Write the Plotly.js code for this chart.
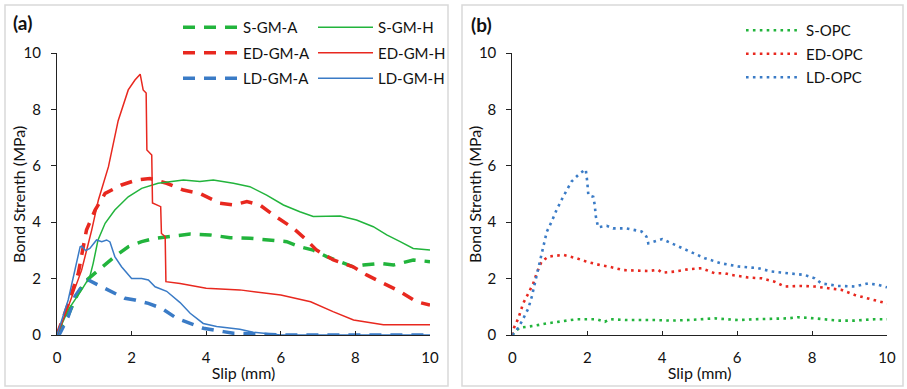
<!DOCTYPE html>
<html>
<head>
<meta charset="utf-8">
<script src="https://cdn.plot.ly/plotly-3.0.1.min.js"></script>
<style>html,body{margin:0;padding:0;background:#fff;}#chart{width:907px;height:389px;}</style>
</head>
<body>
<div id="chart"></div>
<script>
// ---- Panel (a): geopolymer mortars ----
const sgmaX = [0,0.3,0.55,0.75,1.11,1.55,1.91,2.27,2.63,3.03,3.57,4.1,4.64,5.17,5.62,6.16,6.51,6.87,7.23,7.59,7.94,8.21,8.66,9.02,9.55,10];
const sgmaY = [0,0.7,1.45,1.89,2.3,2.78,3.13,3.31,3.43,3.49,3.58,3.55,3.45,3.43,3.37,3.31,3.13,3.01,2.78,2.6,2.42,2.48,2.54,2.48,2.66,2.6];

const sgmhX = [0,0.3,0.66,0.88,0.97,1.1,1.29,1.55,1.91,2.27,2.71,3.39,3.83,4.19,4.73,5.17,5.62,6.07,6.51,6.87,7.59,8.03,8.48,8.84,9.2,9.55,10];
const sgmhY = [0,0.89,1.6,2.07,2.54,3.37,3.96,4.43,4.9,5.2,5.38,5.5,5.44,5.5,5.38,5.26,4.96,4.61,4.37,4.2,4.22,4.08,3.84,3.55,3.31,3.07,3.01];

const edgmaX = [0,0.3,0.57,0.79,1.02,1.29,1.73,2.14,2.49,2.94,3.39,3.83,4.37,4.73,5.09,5.44,5.8,6.34,6.69,6.96,7.41,7.94,8.3,8.75,9.2,9.64,10];
const edgmaY = [0,1.1,2.19,3.72,4.43,5.02,5.32,5.5,5.55,5.38,5.14,5.02,4.67,4.61,4.73,4.61,4.26,3.78,3.37,3.01,2.66,2.42,2.13,1.83,1.54,1.18,1.06];

const edgmhX = [0,0.3,0.66,0.93,1.11,1.38,1.64,1.91,2.09,2.23,2.31,2.39,2.41,2.54,2.56,2.78,2.8,2.9,2.92,3.3,4.0,4.9,6.0,6.8,7.4,7.95,8.75,10];
const edgmhY = [0,1.0,2.3,3.72,4.79,5.97,7.6,8.69,9.04,9.25,8.69,8.58,6.56,6.38,4.68,4.55,3.6,3.49,1.89,1.83,1.66,1.6,1.42,1.18,0.83,0.53,0.36,0.36];

const ldgmaX = [0,0.08,0.3,0.48,0.75,0.84,1.2,1.55,1.82,2.09,2.45,2.8,3.21,3.57,3.92,4.46,4.73,5.35,6,10];
const ldgmaY = [0,0.06,0.65,1.36,1.89,1.95,1.71,1.48,1.3,1.24,1.12,0.95,0.59,0.41,0.24,0.12,0.06,0.04,0,0];

const ldgmhX = [0,0.3,0.62,0.66,0.77,0.88,1.06,1.2,1.33,1.42,1.55,1.73,2.0,2.27,2.45,2.63,2.94,3.3,3.57,3.92,4.28,4.9,5.26,5.62,6,10];
const ldgmhY = [0,1.24,3.13,3.15,2.99,3.07,3.37,3.31,3.37,3.3,2.78,2.42,2.0,2.0,1.95,1.71,1.55,1.15,0.77,0.41,0.3,0.2,0.1,0.05,0,0];

// ---- Panel (b): OPC mortars ----
const sopcX = [0,0.07,0.2,0.56,0.92,1.27,1.72,2.25,2.47,2.6,3.05,3.8,4.25,4.69,5.4,6.03,6.47,7.36,7.62,8.07,8.69,9.14,9.67,10];
const sopcY = [0,0.12,0.26,0.32,0.41,0.47,0.56,0.56,0.47,0.56,0.53,0.53,0.51,0.53,0.59,0.53,0.56,0.59,0.63,0.59,0.51,0.51,0.56,0.56];

const edopcX = [0,0.04,0.16,0.29,0.43,0.56,0.65,0.78,0.96,1.36,1.72,1.98,2.34,2.6,2.96,3.63,3.89,4.0,4.34,4.69,5.05,5.4,5.67,5.85,6.29,6.65,7.0,7.27,7.72,8.07,8.43,8.78,9.14,9.58,10];
const edopcY = [0,0.24,0.59,1.12,1.48,1.83,2.19,2.6,2.78,2.84,2.72,2.6,2.48,2.42,2.3,2.27,2.31,2.21,2.25,2.33,2.37,2.19,2.19,2.13,2.04,2.01,1.89,1.72,1.74,1.72,1.66,1.6,1.42,1.27,1.12];

const ldopcX = [0,0.12,0.25,0.34,0.43,0.52,0.6,0.65,0.74,0.83,0.92,1.05,1.18,1.36,1.58,1.8,1.96,2.0,2.03,2.16,2.2,2.23,2.29,2.52,2.69,3.05,3.45,3.58,3.63,4.0,4.25,4.78,5.14,5.58,6.03,6.56,6.92,7.36,7.8,8.07,8.25,8.69,9.14,9.49,9.76,10];
const ldopcY = [0,0.18,0.47,0.71,0.95,1.36,1.83,2.13,2.66,3.13,3.66,4.02,4.43,4.91,5.44,5.73,5.87,5.44,4.96,4.9,4.61,4.2,3.82,3.87,3.78,3.78,3.67,3.49,3.25,3.4,3.25,2.96,2.72,2.54,2.43,2.37,2.25,2.19,2.13,2.01,1.83,1.74,1.72,1.83,1.78,1.69];

const tickVals = [0,2,4,6,8,10];
const tickText = ['0','2','4','6','8','10'];
const xTitle = 'Slip (mm)';
const yTitle = 'Bond Strenth (MPa)';

const GREEN = '#22b43c', RED = '#e8281f', BLUE = '#3a7bc6';
const DASH = '12px,9px';
const DOT = '2.6px,4.3px';

const W = 907, H = 389;
const px = v => v / W;
const py = v => (H - v) / H;

function tr(name, x, y, color, width, dash, xa, ya, leg, grp) {
  return {type:'scatter', mode:'lines', name:name, x:x, y:y, xaxis:xa, yaxis:ya,
    line:{color:color, width:width, dash:dash}, legend:leg, legendgroup:grp, showlegend:true};
}

const data = [
  tr('S-GM-A', sgmaX, sgmaY, GREEN, 3.5, DASH, 'x', 'y', 'legend', 'g1'),
  tr('ED-GM-A', edgmaX, edgmaY, RED, 3.5, DASH, 'x', 'y', 'legend', 'g2'),
  tr('LD-GM-A', ldgmaX, ldgmaY, BLUE, 3.5, DASH, 'x', 'y', 'legend', 'g3'),
  tr('S-GM-H', sgmhX, sgmhY, GREEN, 1.5, 'solid', 'x', 'y', 'legend2', 'g4'),
  tr('ED-GM-H', edgmhX, edgmhY, RED, 1.5, 'solid', 'x', 'y', 'legend2', 'g5'),
  tr('LD-GM-H', ldgmhX, ldgmhY, BLUE, 1.5, 'solid', 'x', 'y', 'legend2', 'g6'),
  tr('S-OPC', sopcX, sopcY, GREEN, 2.6, DOT, 'x2', 'y2', 'legend3', 'g7'),
  tr('ED-OPC', edopcX, edopcY, RED, 2.6, DOT, 'x2', 'y2', 'legend3', 'g8'),
  tr('LD-OPC', ldopcX, ldopcY, BLUE, 2.6, DOT, 'x2', 'y2', 'legend3', 'g9')
];

const FONT = 'Lato, "Open Sans", sans-serif';
const tickFont = {family:FONT, size:15, color:'#111'};
const titleFont = {family:FONT, size:16, color:'#111'};

function xax(domain, anchor) {
  return {domain:domain, anchor:anchor, range:[0,10], tickvals:tickVals, ticktext:tickText,
    showline:true, linecolor:'#222', linewidth:1, ticks:'inside', ticklen:4, tickcolor:'#222',
    showgrid:false, zeroline:false, tickfont:tickFont, ticklabelstandoff:9,
    title:{text:xTitle, font:titleFont, standoff:2}, fixedrange:true};
}
function yax(domain, anchor) {
  return {domain:domain, anchor:anchor, range:[0,10], tickvals:tickVals, ticktext:tickText,
    showline:true, linecolor:'#222', linewidth:1, ticks:'outside', ticklen:5, tickcolor:'#222',
    showgrid:false, zeroline:false, tickfont:tickFont, ticklabelstandoff:7, fixedrange:true};
}

const legBase = {bgcolor:'rgba(0,0,0,0)', borderwidth:0, font:{family:FONT, size:15, color:'#111'},
  xanchor:'left', yanchor:'top', orientation:'v', itemwidth:55, tracegroupgap:3, itemclick:false, itemdoubleclick:false};

const layout = {
  width:W, height:H,
  margin:{l:0, r:0, t:0, b:0},
  paper_bgcolor:'#fff', plot_bgcolor:'#fff',
  font:{family:FONT, color:'#111'},
  xaxis: xax([px(57), px(430)], 'y'),
  yaxis: yax([py(335), py(53)], 'x'),
  xaxis2: xax([px(512.3), px(887)], 'y2'),
  yaxis2: yax([py(335), py(53)], 'x2'),
  legend: Object.assign({}, legBase, {x:px(178), y:py(11)}),
  legend2: Object.assign({}, legBase, {x:px(313), y:py(11)}),
  legend3: Object.assign({}, legBase, {x:px(741), y:py(14), tracegroupgap:1}),
  shapes: [
    {type:'rect', xref:'paper', yref:'paper', x0:px(5), x1:px(448), y0:py(386), y1:py(5), line:{color:'#d9d9d9', width:1.5}, layer:'below'},
    {type:'rect', xref:'paper', yref:'paper', x0:px(462), x1:px(903), y0:py(386), y1:py(5), line:{color:'#d9d9d9', width:1.5}, layer:'below'}
  ],
  annotations: [
    {text:'<b>(a)</b>', xref:'paper', yref:'paper', x:px(11), y:py(22), xanchor:'left', yanchor:'middle', showarrow:false, font:{family:FONT, size:19, color:'#111'}},
    {text:'<b>(b)</b>', xref:'paper', yref:'paper', x:px(469), y:py(25), xanchor:'left', yanchor:'middle', showarrow:false, font:{family:FONT, size:19, color:'#111'}},
    {text:yTitle, xref:'paper', yref:'paper', x:px(19), y:py(195), xanchor:'center', yanchor:'middle', textangle:-90, showarrow:false, font:titleFont},
    {text:yTitle, xref:'paper', yref:'paper', x:px(475), y:py(195), xanchor:'center', yanchor:'middle', textangle:-90, showarrow:false, font:titleFont}
  ],
  showlegend:true
};

Plotly.newPlot('chart', data, layout, {staticPlot:true, displayModeBar:false});
</script>
</body>
</html>
